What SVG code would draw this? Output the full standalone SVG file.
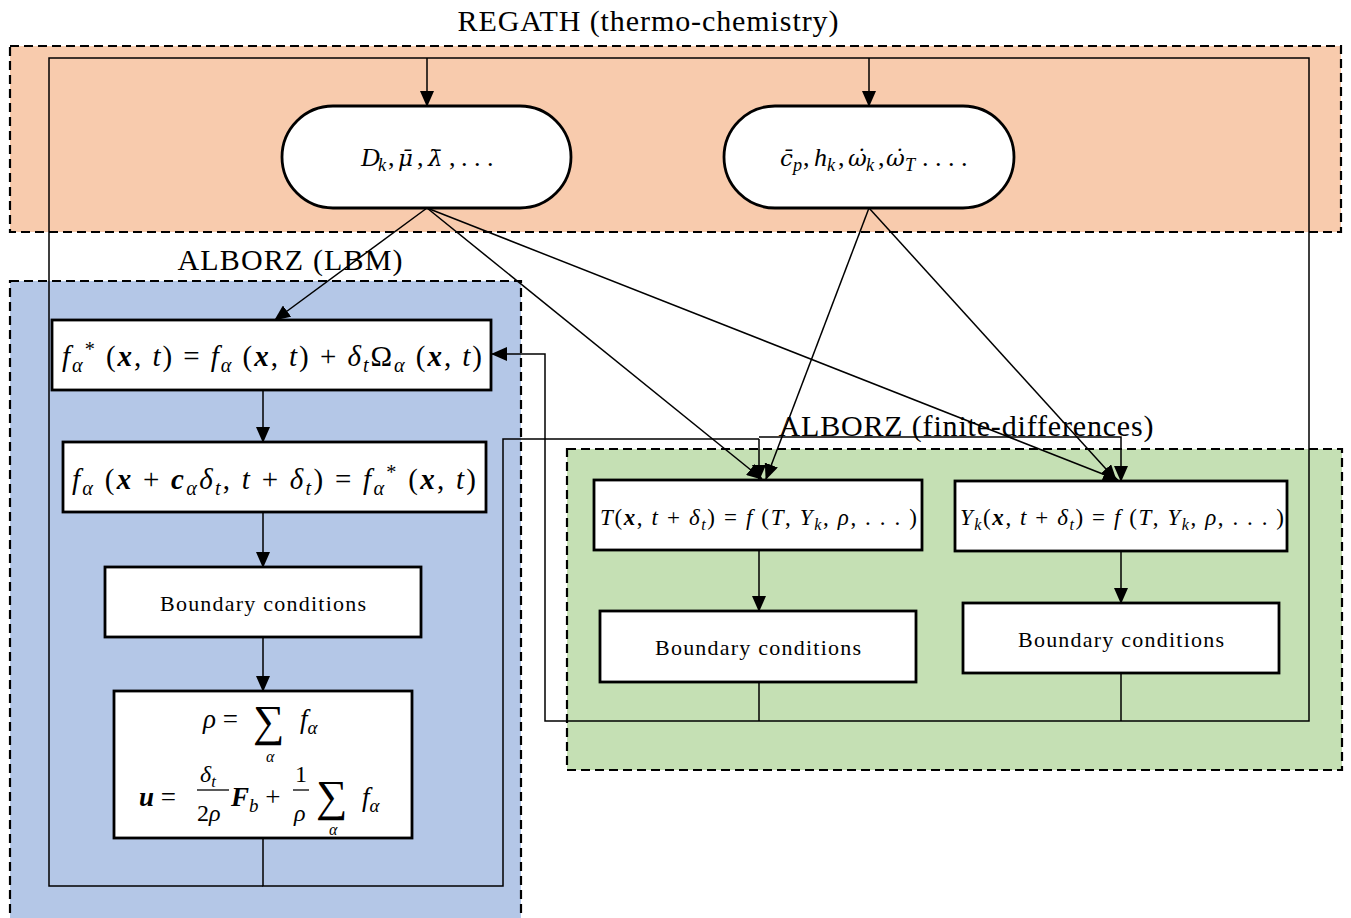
<svg xmlns="http://www.w3.org/2000/svg" width="1351" height="918" viewBox="0 0 1351 918">
<defs>
<marker id="ah" markerUnits="userSpaceOnUse" markerWidth="16" markerHeight="14" refX="15" refY="7" orient="auto">
<path d="M0,0 L16,7 L0,14 Z" fill="#000"/>
</marker>
<style>
.reg{stroke:#000;stroke-width:2.2;stroke-dasharray:9 5}
.node{fill:#fff;stroke:#000;stroke-width:2.8}
.c{fill:none;stroke:#000;stroke-width:1.5}
.ca{fill:none;stroke:#000;stroke-width:1.5;marker-end:url(#ah)}
text{font-family:"Liberation Serif","Times New Roman",serif;fill:#000}
.t{font-size:30px}
.bc{font-size:22px}
.i{font-style:italic}
.n{font-style:normal}
.d{font-family:"DejaVu Serif",serif;font-size:23px}
.b{font-weight:bold;font-style:italic}
.s{font-size:70%}
</style>
</defs>

<g id="regions">
<rect class="reg" x="10" y="46" width="1331" height="186" fill="#F8CBAD"/>
<rect class="reg" x="10" y="281" width="511" height="645" fill="#B4C7E7"/>
<rect class="reg" x="567" y="449" width="775" height="321" fill="#C5E0B4"/>
<text class="t" x="648" y="31" text-anchor="middle" textLength="381">REGATH (thermo-chemistry)</text>
<text class="t" x="290" y="270" text-anchor="middle" textLength="225">ALBORZ (LBM)</text>
<text class="t" x="966" y="436" text-anchor="middle" textLength="375">ALBORZ (finite-differences)</text>
</g>

<g id="connectors">
<path class="ca" d="M263,886 L49,886 L49,58 L1309,58 L1309,721 L545,721 L545,354 L492,354"/>
<path class="ca" d="M427,58 L427,106"/>
<path class="ca" d="M869,58 L869,106"/>
<path class="ca" d="M427,208 L275,320"/>
<path class="ca" d="M427,208 L762,479"/>
<path class="ca" d="M427,208 L1118,480"/>
<path class="ca" d="M869,208 L766,479"/>
<path class="ca" d="M869,208 L1116,480"/>
<path class="ca" d="M263,390 L263,442"/>
<path class="ca" d="M263,512 L263,567"/>
<path class="ca" d="M263,637 L263,691"/>
<path class="c" d="M263,838 L263,886 L503,886 L503,439 L759,439"/>
<path class="ca" d="M759,439 L759,480"/>
<path class="ca" d="M759,437 L1121,437 L1121,481"/>
<path class="ca" d="M759,550 L759,611"/>
<path class="ca" d="M1121,551 L1121,603"/>
<path class="c" d="M759,682 L759,721"/>
<path class="c" d="M1121,673 L1121,721"/>
</g>

<g id="pill-transport">
<rect class="node" x="282" y="106" width="289" height="102" rx="51"/>
<text y="166" font-size="26" class="i"><tspan x="361">D</tspan><tspan x="378" dy="5" class="s">k</tspan><tspan x="388" dy="-5" class="n">,</tspan><tspan x="398" class="d">μ̄</tspan><tspan x="417" class="n">,</tspan><tspan x="428" class="d">λ̄</tspan><tspan x="449" class="n">,</tspan><tspan x="461" class="n">. . .</tspan></text>
</g>

<g id="pill-thermo">
<rect class="node" x="724" y="106" width="290" height="102" rx="51"/>
<text y="166" font-size="26" class="i"><tspan x="780" class="d">c̄</tspan><tspan x="793" dy="5" class="s">p</tspan><tspan x="803" dy="-5" class="n">,</tspan><tspan x="814">h</tspan><tspan x="827" dy="5" class="s">k</tspan><tspan x="838" dy="-5" class="n">,</tspan><tspan x="848" class="d">ω̇</tspan><tspan x="866" dy="5" class="s">k</tspan><tspan x="878" dy="-5" class="n">,</tspan><tspan x="886" class="d">ω̇</tspan><tspan x="905" dy="5" class="s">T</tspan><tspan x="922" dy="-5" class="n">. . . .</tspan></text>
</g>

<g id="collision">
<rect class="node" x="52" y="320" width="439" height="70"/>
<text x="62" y="366" font-size="29" textLength="420"><tspan class="i">f</tspan><tspan class="i s" dy="6">α</tspan><tspan class="s" dy="-16">*</tspan><tspan dy="10"> (</tspan><tspan class="b">x</tspan>, <tspan class="i">t</tspan>) = <tspan class="i">f</tspan><tspan class="i s" dy="6">α</tspan><tspan dy="-6"> (</tspan><tspan class="b">x</tspan>, <tspan class="i">t</tspan>) + <tspan class="i">δ</tspan><tspan class="i s" dy="6">t</tspan><tspan dy="-6">Ω</tspan><tspan class="i s" dy="6">α</tspan><tspan dy="-6"> (</tspan><tspan class="b">x</tspan>, <tspan class="i">t</tspan>)</text>
</g>

<g id="streaming">
<rect class="node" x="63" y="442" width="423" height="70"/>
<text x="72" y="489" font-size="29" textLength="404"><tspan class="i">f</tspan><tspan class="i s" dy="6">α</tspan><tspan dy="-6"> (</tspan><tspan class="b">x</tspan> + <tspan class="b">c</tspan><tspan class="i s" dy="6">α</tspan><tspan class="i" dy="-6">δ</tspan><tspan class="i s" dy="6">t</tspan><tspan dy="-6">, </tspan><tspan class="i">t</tspan> + <tspan class="i">δ</tspan><tspan class="i s" dy="6">t</tspan><tspan dy="-6">) = </tspan><tspan class="i">f</tspan><tspan class="i s" dy="6">α</tspan><tspan class="s" dy="-16">*</tspan><tspan dy="10"> (</tspan><tspan class="b">x</tspan>, <tspan class="i">t</tspan>)</text>
</g>

<g id="bc-lbm">
<rect class="node" x="105" y="567" width="316" height="70"/>
<text class="bc" x="263" y="611" text-anchor="middle" textLength="206">Boundary conditions</text>
</g>

<g id="macroscopic">
<rect class="node" x="114" y="691" width="298" height="147"/>
<text x="203" y="728" font-size="27"><tspan class="i">ρ</tspan> =</text>
<text x="253" y="736" font-size="44">∑</text>
<text x="300" y="728" font-size="27"><tspan class="i">f</tspan><tspan class="i s" dy="6">α</tspan></text>
<text x="266" y="762" font-size="16" class="i">α</text>
<text x="139" y="806" font-size="27"><tspan class="b">u</tspan> =</text>
<text x="200" y="782" font-size="24"><tspan class="i">δ</tspan><tspan class="i s" dy="5">t</tspan></text>
<path d="M197,790 H229" stroke="#000" stroke-width="1.3"/>
<text x="197" y="821" font-size="24">2<tspan class="i">ρ</tspan></text>
<text x="231" y="806" font-size="27"><tspan class="b">F</tspan><tspan class="i s" dy="6">b</tspan><tspan dy="-6"> +</tspan></text>
<text x="295" y="782" font-size="24">1</text>
<path d="M293,790 H309" stroke="#000" stroke-width="1.3"/>
<text x="294" y="821" font-size="24" class="i">ρ</text>
<text x="316" y="811" font-size="44">∑</text>
<text x="362" y="806" font-size="27"><tspan class="i">f</tspan><tspan class="i s" dy="6">α</tspan></text>
<text x="329" y="835" font-size="16" class="i">α</text>
</g>

<g id="fd-temperature">
<rect class="node" x="594" y="480" width="328" height="70"/>
<text x="600" y="525" font-size="23" textLength="317"><tspan class="i">T</tspan>(<tspan class="b">x</tspan>, <tspan class="i">t</tspan> + <tspan class="i">δ</tspan><tspan class="i s" dy="5">t</tspan><tspan dy="-5">) = </tspan><tspan class="i">f</tspan> (<tspan class="i">T</tspan>, <tspan class="i">Y</tspan><tspan class="i s" dy="5">k</tspan><tspan dy="-5">, </tspan><tspan class="i">ρ</tspan>, . . . )</text>
</g>

<g id="fd-species">
<rect class="node" x="955" y="481" width="332" height="70"/>
<text x="960" y="525" font-size="23" textLength="324"><tspan class="i">Y</tspan><tspan class="i s" dy="5">k</tspan><tspan dy="-5">(</tspan><tspan class="b">x</tspan>, <tspan class="i">t</tspan> + <tspan class="i">δ</tspan><tspan class="i s" dy="5">t</tspan><tspan dy="-5">) = </tspan><tspan class="i">f</tspan> (<tspan class="i">T</tspan>, <tspan class="i">Y</tspan><tspan class="i s" dy="5">k</tspan><tspan dy="-5">, </tspan><tspan class="i">ρ</tspan>, . . . )</text>
</g>

<g id="bc-temperature">
<rect class="node" x="600" y="611" width="316" height="71"/>
<text class="bc" x="758" y="655" text-anchor="middle" textLength="206">Boundary conditions</text>
</g>

<g id="bc-species">
<rect class="node" x="963" y="603" width="316" height="70"/>
<text class="bc" x="1121" y="647" text-anchor="middle" textLength="206">Boundary conditions</text>
</g>
</svg>
